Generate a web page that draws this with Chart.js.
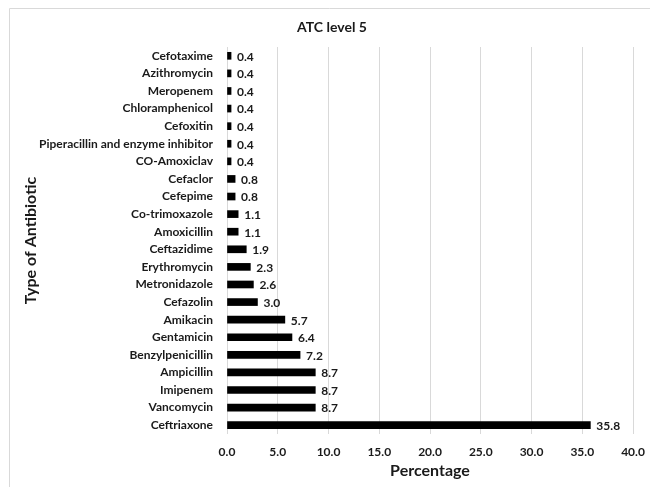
<!DOCTYPE html>
<html>
<head>
<meta charset="utf-8">
<script src="https://cdn.jsdelivr.net/npm/chart.js@4"></script>
<style>
  html, body { margin: 0; padding: 0; background: #fff; }
  #wrap { width: 650px; height: 487px; }
</style>
</head>
<body>
<div id="wrap"><canvas id="myChart" width="650" height="487"></canvas></div>
<script>
// data, top to bottom
const categories = [
  'Cefotaxime', 'Azithromycin', 'Meropenem', 'Chloramphenicol', 'Cefoxitin',
  'Piperacillin and enzyme inhibitor', 'CO-Amoxiclav', 'Cefaclor', 'Cefepime',
  'Co-trimoxazole', 'Amoxicillin', 'Ceftazidime', 'Erythromycin', 'Metronidazole',
  'Cefazolin', 'Amikacin', 'Gentamicin', 'Benzylpenicillin', 'Ampicillin',
  'Imipenem', 'Vancomycin', 'Ceftriaxone'
];
const percentages = [
  0.4, 0.4, 0.4, 0.4, 0.4,
  0.4, 0.4, 0.8, 0.8,
  1.1, 1.1, 1.9, 2.3, 2.6,
  3.0, 5.7, 6.4, 7.2, 8.7,
  8.7, 8.7, 35.8
];
const xTicks = [0, 5, 10, 15, 20, 25, 30, 35, 40];

const FONT = 'Lato, "Open Sans", sans-serif';
const INK = '#1a1a1a';

// frame, title and value labels
const extras = {
  id: 'extras',
  beforeDraw(chart) {
    const c = chart.ctx;
    c.save();
    c.strokeStyle = '#d9d9d9';
    c.lineWidth = 1;
    c.beginPath();
    c.moveTo(9.5, 487);
    c.lineTo(9.5, 8.5);
    c.lineTo(650, 8.5);
    c.stroke();
    c.restore();
  },
  afterDraw(chart) {
    const c = chart.ctx;
    c.save();
    c.fillStyle = INK;
    c.font = 'bold 14px ' + FONT;
    c.textAlign = 'center';
    c.textBaseline = 'middle';
    c.fillText('ATC level 5', 332, 27);

    c.font = 'bold 12px ' + FONT;
    c.textAlign = 'left';
    const meta = chart.getDatasetMeta(0);
    meta.data.forEach((bar, i) => {
      c.fillText(percentages[i].toFixed(1), bar.x + 6, bar.y + 1);
    });
    c.restore();
  }
};

const ctx = document.getElementById('myChart');

new Chart(ctx, {
  type: 'bar',
  data: {
    labels: categories,
    datasets: [{
      data: percentages,
      backgroundColor: '#000000',
      barThickness: 7
    }]
  },
  options: {
    indexAxis: 'y',
    responsive: false,
    animation: false,
    layout: { padding: { top: 47, right: 17, left: 0, bottom: 7 } },
    plugins: {
      legend: { display: false },
      tooltip: { enabled: false }
    },
    scales: {
      x: {
        min: 0,
        max: 40,
        afterBuildTicks: (axis) => { axis.ticks = xTicks.map((v) => ({ value: v })); },
        afterFit: (axis) => {
          axis.height = 46;
          axis.paddingLeft = 0;
          axis.paddingRight = 0;
        },
        grid: { color: '#d9d9d9', drawTicks: false },
        border: { display: false },
        ticks: {
          padding: 11,
          color: INK,
          font: { family: FONT, size: 12, weight: 'bold' },
          callback: (v) => Number(v).toFixed(1)
        },
        title: {
          display: true,
          text: 'Percentage',
          color: INK,
          font: { family: FONT, size: 16, weight: 'bold' },
          padding: { top: 0, bottom: 0 }
        }
      },
      y: {
        afterFit: (axis) => { axis.width = 227; },
        grid: { display: false, drawTicks: false },
        border: { display: false },
        ticks: {
          padding: 14,
          color: INK,
          autoSkip: false,
          font: { family: FONT, size: 12, weight: 'bold' }
        },
        title: {
          display: true,
          text: 'Type of Antibiotic',
          color: INK,
          font: { family: FONT, size: 16, weight: 'bold' },
          padding: { top: 21, bottom: 0 }
        }
      }
    }
  },
  plugins: [extras]
});
</script>
</body>
</html>
